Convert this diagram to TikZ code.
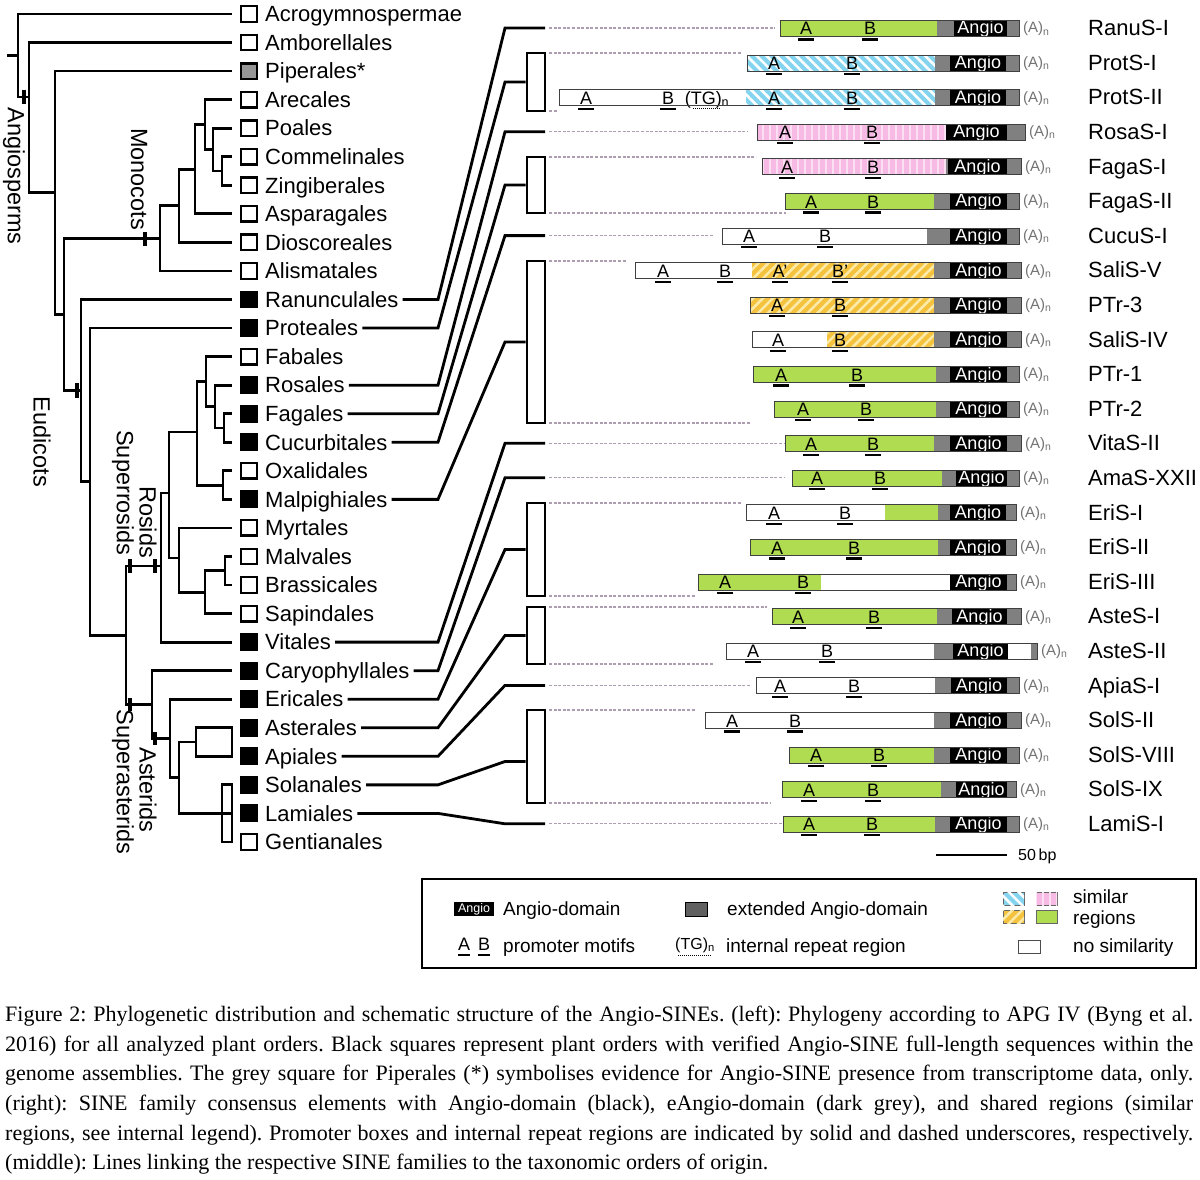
\documentclass[tikz,border=0pt]{standalone}
\usepackage{fontspec}
\setmainfont{Liberation Serif}
\setsansfont{Liberation Sans}
\usetikzlibrary{patterns.meta}

\definecolor{simgreen}{RGB}{176,220,82}
\definecolor{simblue}{RGB}{132,212,240}
\definecolor{simpink}{RGB}{246,186,228}
\definecolor{simyellow}{RGB}{244,194,60}
\definecolor{lightyellow}{RGB}{252,234,168}
\definecolor{egray}{RGB}{128,128,128}
\definecolor{sqgray}{RGB}{150,150,150}
\definecolor{legdark}{RGB}{96,96,96}
\definecolor{guidegray}{RGB}{172,158,176}

% one region of a SINE bar: x from, x to, row y, fill
\newcommand{\sineseg}[4]{\path[#4] (#1,{#3-7.5}) rectangle (#2,{#3+8.5});}
% eAngio + Angio + eAngio tail: y, gray start, black start, black end, end
\newcommand{\angiotail}[5]{%
	\sineseg{#2}{#3}{#1}{fill=egray}
	\sineseg{#3}{#4}{#1}{fill=black}
	\node[angiotxt] at ({(#3+#4)/2},{#1-0.5}) {Angio};
	\sineseg{#4}{#5}{#1}{fill=egray}
}
% promoter box letter with underscore
\newcommand{\motif}[3]{%
	\node[motiftxt] at (#1,{#2+0.5}) {#3};
	\draw[uline] ({#1-8},{#2+11.5}) -- ({#1+8},{#2+11.5});
}
% outline and poly-A tail
\newcommand{\barframe}[3]{%
	\draw[barline] (#1,{#3-7.5}) rectangle (#2,{#3+8.5});
	\node[polya] at ({#2+4},{#3+1}) {(A)\textsubscript{n}};
}
% tree fork: node x, upper y, upper end x, lower y, lower end x
\newcommand{\fork}[5]{\draw[branch] (#3,#2) -| (#1,#4) -- (#5,#4);}

\tikzset{
	branch/.style={line width=2.8pt},
	cladetick/.style={line width=3.6pt},
	cladelabel/.style={rotate=-90, font=\sffamily\fontsize{23.5}{26}\selectfont, inner sep=0pt},
	ordersq/.style={draw, line width=2.4pt, minimum size=15.5pt, inner sep=0pt},
	ordername/.style={anchor=west, font=\sffamily\fontsize{22}{26}\selectfont, inner sep=0pt, text height=15.5pt, text depth=0pt},
	link/.style={line width=2.8pt},
	famgroup/.style={draw, line width=2.8pt, minimum width=18pt, inner sep=0pt},
	guide/.style={line width=1.1pt, draw=guidegray, dash pattern=on 3pt off 1.6pt},
	barline/.style={line width=1pt, draw=black!75},
	angiotxt/.style={text=white, font=\sffamily\fontsize{18}{20}\selectfont, inner sep=0pt, text height=13pt, text depth=0pt},
	motiftxt/.style={font=\sffamily\fontsize{18}{20}\selectfont, inner sep=0pt, text height=13pt, text depth=0pt},
	uline/.style={line width=2.2pt},
	repeatline/.style={line width=1pt, dash pattern=on 1pt off 1pt},
	polya/.style={anchor=west, text=black!55, font=\sffamily\fontsize{15}{17}\selectfont, inner sep=0pt},
	legtext/.style={anchor=west, font=\sffamily\fontsize{19}{22}\selectfont, inner sep=0pt, text height=13.5pt, text depth=0pt},
	legendframe/.style={line width=2.6pt},
	caption/.style={anchor=north west, text width=1188pt, align=justify, inner sep=0pt, font=\rmfamily\fontsize{22}{29.6}\selectfont\frenchspacing},
	hatchblue/.style={fill=simblue, postaction={pattern={Lines[angle=-45,distance=7pt,line width=2.6pt]}, pattern color=white}},
	hatchpink/.style={fill=simpink, postaction={pattern={Lines[angle=90,distance=7pt,line width=2pt]}, pattern color=white!55!simpink}},
	hatchyellow/.style={fill=simyellow, postaction={pattern={Lines[angle=45,distance=7pt,line width=2.6pt]}, pattern color=lightyellow}},
}

\begin{document}
\begin{tikzpicture}[x=1pt, y=-1pt]
	\useasboundingbox (0,0) rectangle (1200,1180);

	%% phylogeny
	% orders
	\foreach \name/\col [count=\i from 0] in {Acrogymnospermae/white, Amborellales/white, Piperales*/sqgray, Arecales/white, Poales/white, Commelinales/white, Zingiberales/white, Asparagales/white, Dioscoreales/white, Alismatales/white, Ranunculales/black, Proteales/black, Fabales/white, Rosales/black, Fagales/black, Cucurbitales/black, Oxalidales/white, Malpighiales/black, Myrtales/white, Malvales/white, Brassicales/white, Sapindales/white, Vitales/black, Caryophyllales/black, Ericales/black, Asterales/black, Apiales/black, Solanales/black, Lamiales/black, Gentianales/white}{
		\node[ordersq, fill=\col] (sq\i) at (249,{14+28.55*\i}) {};
		\node[ordername] (tx\i) at (265,{14+28.55*\i}) {\name};
	}

	% backbone
	\draw[branch] (7,55.5) -- (18,55.5);
	\fork{18}{14}{232}{97}{29}
	\fork{29}{42.55}{232}{192.8}{55}
	\fork{55}{71.1}{232}{314.5}{64}
	\fork{64}{238.4}{160}{390.6}{81}

	% monocots
	\fork{160}{205.8}{179}{270.95}{232}
	\fork{179}{169.2}{195}{242.4}{232}
	\fork{195}{124.6}{205}{213.85}{232}
	\fork{205}{99.65}{232}{149.6}{213}
	\fork{213}{128.2}{232}{171}{222}
	\fork{222}{156.75}{232}{185.3}{232}

	% eudicots
	\fork{81}{299.5}{232}{481.7}{90}
	\fork{90}{328.05}{232}{635.3}{126}
	\fork{126}{566}{161}{704.6}{152}
	\fork{161}{493}{169}{642.1}{232}
	\fork{169}{432}{197}{558}{179}
	\fork{197}{381.6}{206}{485.1}{223}
	\fork{206}{356.6}{232}{406.6}{215}
	\fork{215}{385.15}{232}{428}{224}
	\fork{224}{413.7}{232}{442.25}{232}
	\fork{223}{470.8}{232}{499.35}{232}
	\fork{179}{527.9}{232}{592.1}{205}
	\fork{205}{570.7}{225}{613.55}{232}
	\fork{225}{556.45}{232}{585}{232}
	\fork{152}{670.65}{232}{738.5}{170}
	\fork{170}{699.2}{232}{777.7}{179}
	\fork{179}{742}{196}{813.4}{232}
	\draw[branch] (196,727.75) rectangle (232,756.3);
	\draw[branch] (222,784.85) rectangle (232,841.95);

	% clade marks
	\draw[cladetick] (24,90) -- (24,104);
	\draw[cladetick] (145,232) -- (145,246);
	\draw[cladetick] (77,383) -- (77,398);
	\draw[cladetick] (130,559) -- (130,573);
	\draw[cladetick] (155,559) -- (155,573);
	\draw[cladetick] (130,698) -- (130,711);
	\draw[cladetick] (155,732) -- (155,745);
	\node[cladelabel] (lAngio) at (14,176) {Angiosperms};
	\node[cladelabel] (lMono) at (139,179) {Monocots};
	\node[cladelabel] (lEudi) at (42,442) {Eudicots};
	\node[cladelabel] (lSros) at (123,493) {Superrosids};
	\node[cladelabel] (lRos) at (148,522) {Rosids};
	\node[cladelabel] (lSast) at (123,782) {Superasterids};
	\node[cladelabel] (lAst) at (148,790) {Asterids};

	%% links to the SINE families
	\coordinate (kneeX) at (438,0);
	\coordinate (bendX) at (505,0);
	\node[famgroup, minimum height=58pt] (gProt) at (536,82) {};
	\node[famgroup, minimum height=56pt] (gFaga) at (536,185) {};
	\node[famgroup, minimum height=162pt] (gSali) at (536,342) {};
	\node[famgroup, minimum height=93pt] (gEri) at (536,549.5) {};
	\node[famgroup, minimum height=57pt] (gAste) at (536,635.5) {};
	\node[famgroup, minimum height=93pt] (gSol) at (536,756.5) {};
	\coordinate (cRanu) at (545,28);
	\coordinate (cProt) at (gProt.west);
	\coordinate (cRosa) at (545,131.8);
	\coordinate (cFaga) at (gFaga.west);
	\coordinate (cCucu) at (545,235.6);
	\coordinate (cSali) at (gSali.west);
	\coordinate (cVita) at (545,443.2);
	\coordinate (cAma) at (545,477.8);
	\coordinate (cEri) at (gEri.west);
	\coordinate (cAste) at (gAste.west);
	\coordinate (cApia) at (545,685.4);
	\coordinate (cSol) at ([yshift=-5pt]gSol.west);
	\coordinate (cLami) at (545,823.8);
	\foreach \t/\c in {10/cRanu, 11/cProt, 13/cRosa, 14/cFaga, 15/cCucu, 17/cSali, 22/cVita, 23/cAma, 24/cEri, 25/cAste, 26/cApia, 27/cSol, 28/cLami}
		\draw[link] ([xshift=4pt]tx\t.east) -- (kneeX |- tx\t.east) -- (bendX |- \c) -- (\c);

	% dashed guides
	\foreach \ya/\xb in {28/775, 53/742, 111/557, 131.8/748, 157/756, 213/786, 235.6/714, 261/626, 423/750, 443.2/784, 477.8/784, 503/741, 596/695, 607/767, 664/714, 685.4/750, 710/695, 803/771, 823.8/782}
		\draw[guide] (549,\ya) -- (\xb,\ya);

	%% SINE families
	\foreach \fam [count=\j from 0] in {RanuS-I, ProtS-I, ProtS-II, RosaS-I, FagaS-I, FagaS-II, CucuS-I, SaliS-V, PTr-3, SaliS-IV, PTr-1, PTr-2, VitaS-II, AmaS-XXII, EriS-I, EriS-II, EriS-III, AsteS-I, AsteS-II, ApiaS-I, SolS-II, SolS-VIII, SolS-IX, LamiS-I}
		\node[ordername] (fam\j) at (1088,{28+34.6*\j}) {\fam};

	% RanuS-I
	\sineseg{780}{937}{28}{fill=simgreen}
	\angiotail{28}{937}{954}{1007}{1019}
	\motif{806}{28}{A} \motif{870}{28}{B}
	\barframe{780}{1019}{28}
	% ProtS-I
	\sineseg{747}{935}{62.6}{hatchblue}
	\angiotail{62.6}{935}{950}{1006}{1019}
	\motif{774}{62.6}{A} \motif{852}{62.6}{B}
	\barframe{747}{1019}{62.6}
	% ProtS-II
	\sineseg{559}{746}{97.2}{fill=white}
	\sineseg{746}{935}{97.2}{hatchblue}
	\angiotail{97.2}{935}{950}{1006}{1019}
	\motif{586}{97.2}{A} \motif{668}{97.2}{B}
	\node[motiftxt] at (707,97.7) {(TG)\textsubscript{n}};
	\draw[repeatline] (693,108.7) -- (721,108.7);
	\motif{774}{97.2}{A} \motif{852}{97.2}{B}
	\barframe{559}{1019}{97.2}
	% RosaS-I
	\sineseg{757}{946}{131.8}{hatchpink}
	\angiotail{131.8}{946}{946}{1007}{1025}
	\motif{785}{131.8}{A} \motif{872}{131.8}{B}
	\barframe{757}{1025}{131.8}
	% FagaS-I
	\sineseg{762}{946}{166.4}{hatchpink}
	\angiotail{166.4}{946}{948}{1007}{1021}
	\motif{787}{166.4}{A} \motif{873}{166.4}{B}
	\barframe{762}{1021}{166.4}
	% FagaS-II
	\sineseg{785}{934}{201}{fill=simgreen}
	\angiotail{201}{934}{950}{1007}{1019}
	\motif{811}{201}{A} \motif{873}{201}{B}
	\barframe{785}{1019}{201}
	% CucuS-I
	\sineseg{722}{927}{235.6}{fill=white}
	\angiotail{235.6}{927}{950}{1007}{1019}
	\motif{749}{235.6}{A} \motif{825}{235.6}{B}
	\barframe{722}{1019}{235.6}
	% SaliS-V
	\sineseg{635}{752}{270.2}{fill=white}
	\sineseg{752}{934}{270.2}{hatchyellow}
	\angiotail{270.2}{934}{950}{1007}{1021}
	\motif{663}{270.2}{A} \motif{725}{270.2}{B}
	\motif{780}{270.2}{A'} \motif{840}{270.2}{B'}
	\barframe{635}{1021}{270.2}
	% PTr-3
	\sineseg{750}{934}{304.8}{hatchyellow}
	\angiotail{304.8}{934}{950}{1007}{1021}
	\motif{777}{304.8}{A} \motif{840}{304.8}{B}
	\barframe{750}{1021}{304.8}
	% SaliS-IV
	\sineseg{752}{827}{339.4}{fill=white}
	\sineseg{827}{934}{339.4}{hatchyellow}
	\angiotail{339.4}{934}{950}{1007}{1021}
	\motif{778}{339.4}{A} \motif{840}{339.4}{B}
	\barframe{752}{1021}{339.4}
	% PTr-1
	\sineseg{753}{936}{374}{fill=simgreen}
	\angiotail{374}{936}{950}{1007}{1019}
	\motif{781}{374}{A} \motif{857}{374}{B}
	\barframe{753}{1019}{374}
	% PTr-2
	\sineseg{774}{936}{408.6}{fill=simgreen}
	\angiotail{408.6}{936}{950}{1007}{1019}
	\motif{803}{408.6}{A} \motif{866}{408.6}{B}
	\barframe{774}{1019}{408.6}
	% VitaS-II
	\sineseg{785}{934}{443.2}{fill=simgreen}
	\angiotail{443.2}{934}{950}{1007}{1021}
	\motif{811}{443.2}{A} \motif{873}{443.2}{B}
	\barframe{785}{1021}{443.2}
	% AmaS-XXII
	\sineseg{792}{942}{477.8}{fill=simgreen}
	\angiotail{477.8}{942}{956}{1007}{1019}
	\motif{817}{477.8}{A} \motif{880}{477.8}{B}
	\barframe{792}{1019}{477.8}
	% EriS-I
	\sineseg{746}{885}{512.4}{fill=white}
	\sineseg{885}{938}{512.4}{fill=simgreen}
	\angiotail{512.4}{938}{950}{1006}{1016}
	\motif{774}{512.4}{A} \motif{845}{512.4}{B}
	\barframe{746}{1016}{512.4}
	% EriS-II
	\sineseg{750}{938}{547}{fill=simgreen}
	\angiotail{547}{938}{950}{1006}{1016}
	\motif{777}{547}{A} \motif{854}{547}{B}
	\barframe{750}{1016}{547}
	% EriS-III
	\sineseg{698}{821}{581.6}{fill=simgreen}
	\sineseg{821}{950}{581.6}{fill=white}
	\angiotail{581.6}{950}{950}{1007}{1016}
	\motif{725}{581.6}{A} \motif{803}{581.6}{B}
	\barframe{698}{1016}{581.6}
	% AsteS-I
	\sineseg{772}{937}{616.2}{fill=simgreen}
	\angiotail{616.2}{937}{952}{1007}{1021}
	\motif{798}{616.2}{A} \motif{874}{616.2}{B}
	\barframe{772}{1021}{616.2}
	% AsteS-II
	\sineseg{726}{934}{650.8}{fill=white}
	\angiotail{650.8}{934}{953}{1008}{1008}
	\sineseg{1008}{1031}{650.8}{fill=white}
	\sineseg{1031}{1037}{650.8}{fill=egray}
	\motif{753}{650.8}{A} \motif{827}{650.8}{B}
	\barframe{726}{1037}{650.8}
	% ApiaS-I
	\sineseg{756}{935}{685.4}{fill=white}
	\angiotail{685.4}{935}{951}{1007}{1019}
	\motif{780}{685.4}{A} \motif{854}{685.4}{B}
	\barframe{756}{1019}{685.4}
	% SolS-II
	\sineseg{705}{934}{720}{fill=white}
	\angiotail{720}{934}{950}{1007}{1021}
	\motif{732}{720}{A} \motif{795}{720}{B}
	\barframe{705}{1021}{720}
	% SolS-VIII
	\sineseg{789}{934}{754.6}{fill=simgreen}
	\angiotail{754.6}{934}{950}{1007}{1019}
	\motif{816}{754.6}{A} \motif{879}{754.6}{B}
	\barframe{789}{1019}{754.6}
	% SolS-IX
	\sineseg{782}{941}{789.2}{fill=simgreen}
	\angiotail{789.2}{941}{956}{1007}{1016}
	\motif{809}{789.2}{A} \motif{873}{789.2}{B}
	\barframe{782}{1016}{789.2}
	% LamiS-I
	\sineseg{783}{935}{823.8}{fill=simgreen}
	\angiotail{823.8}{935}{950}{1007}{1019}
	\motif{809}{823.8}{A} \motif{872}{823.8}{B}
	\barframe{783}{1019}{823.8}

	% scale bar
	\draw[line width=1.2pt] (936,855) -- (1007,855);
	\node[anchor=west, font=\sffamily\fontsize{16}{18}\selectfont, inner sep=0pt] (scale) at (1018,856) {50\,bp};

	%% legend
	\draw[legendframe] (422,879) rectangle (1196,968);
	\fill[black] (454,902) rectangle (494,916);
	\node[text=white, font=\sffamily\fontsize{12.5}{13}\selectfont, inner sep=0pt] (legAngioBox) at (474,909) {Angio};
	\node[legtext] (legAngio) at (503,909) {Angio-domain};
	\path[fill=legdark, draw=black, line width=0.8pt] (685,902) rectangle (707,916);
	\node[legtext] (legExt) at (727,909) {extended Angio-domain};
	\path[hatchblue, draw=black!60, line width=0.6pt] (1003,892) rectangle (1024,905);
	\path[hatchpink, draw=black!60, line width=0.6pt] (1036,892) rectangle (1057,905);
	\path[hatchyellow, draw=black!60, line width=0.6pt] (1003,910) rectangle (1024,923);
	\path[fill=simgreen, draw=black!60, line width=0.6pt] (1036,910) rectangle (1057,923);
	\node[legtext] (legSim) at (1073,897) {similar};
	\node[legtext] (legReg) at (1073,918) {regions};
	\node[motiftxt] (legA) at (464,944) {A};
	\node[motiftxt] (legB) at (484,944) {B};
	\draw[uline, line width=1.6pt] (458,955) -- (470,955);
	\draw[uline, line width=1.6pt] (478,955) -- (490,955);
	\node[legtext] (legProm) at (503,946) {promoter motifs};
	\node[font=\sffamily\fontsize{16}{18}\selectfont, inner sep=0pt] (legTG) at (695,945) {(TG)\textsubscript{n}};
	\draw[repeatline] (678,955) -- (712,955);
	\node[legtext] (legRep) at (726,946) {internal repeat region};
	\path[fill=white, draw=black!70, line width=0.8pt] (1018,940) rectangle (1040,953);
	\node[legtext] (legNo) at (1073,946) {no similarity};

	%% caption
	\node[caption] (cap) at (5,1006) {Figure 2: Phylogenetic distribution and schematic structure of the Angio-SINEs. (left): Phylogeny according to APG IV (Byng et al.\linebreak
	2016) for all analyzed plant orders. Black squares represent plant orders with verified Angio-SINE full-length sequences within the\linebreak
	genome assemblies. The grey square for Piperales (*) symbolises evidence for Angio-SINE presence from transcriptome data, only.\linebreak
	(right): SINE family consensus elements with Angio-domain (black), eAngio-domain (dark grey), and shared regions (similar\linebreak
	regions, see internal legend). Promoter boxes and internal repeat regions are indicated by solid and dashed underscores, respectively.\linebreak
	(middle): Lines linking the respective SINE families to the taxonomic orders of origin.};
\end{tikzpicture}
\end{document}
